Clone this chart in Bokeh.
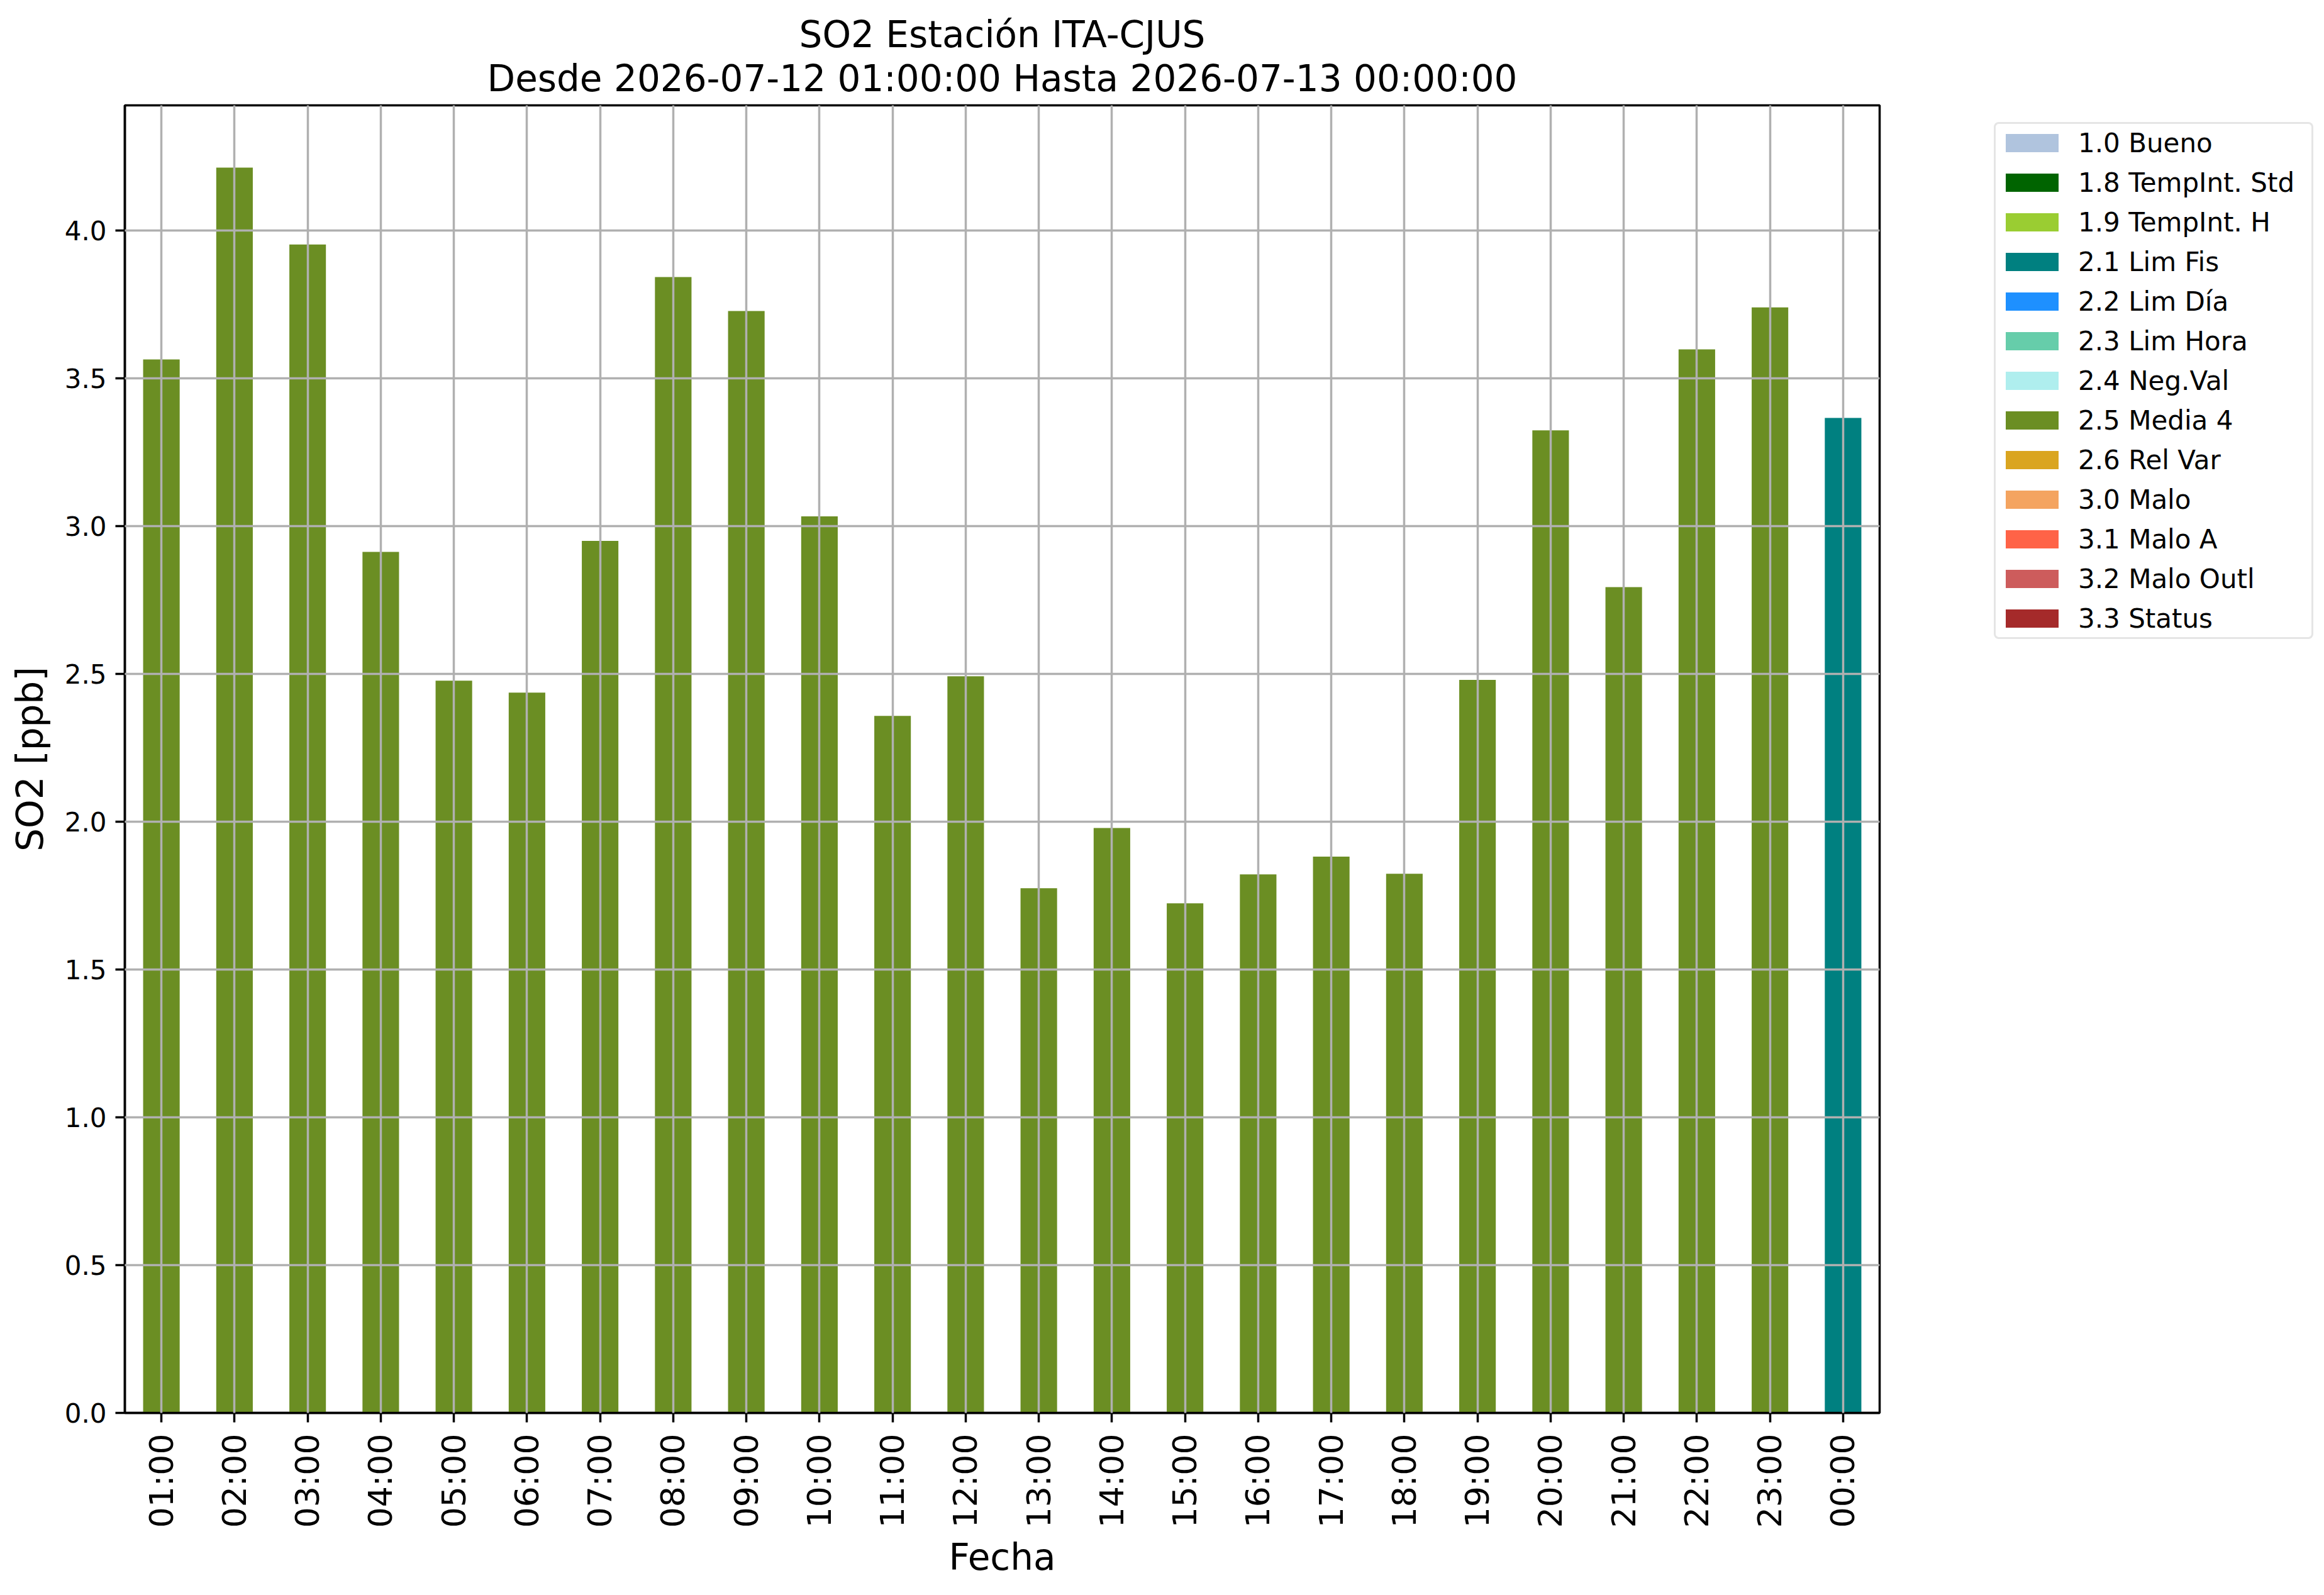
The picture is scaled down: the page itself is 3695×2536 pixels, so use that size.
import math
from bokeh.plotting import figure
from bokeh.layouts import row
from bokeh.models import (FactorRange, Range1d, FixedTicker, NumeralTickFormatter,
                          Legend, LegendItem, Title, ColumnDataSource)
from bokeh.embed import file_html
from bokeh.resources import INLINE

# ---------------- data ----------------
hours = ["01:00", "02:00", "03:00", "04:00", "05:00", "06:00", "07:00", "08:00",
         "09:00", "10:00", "11:00", "12:00", "13:00", "14:00", "15:00", "16:00",
         "17:00", "18:00", "19:00", "20:00", "21:00", "22:00", "23:00", "00:00"]
values = [3.564, 4.213, 3.953, 2.913, 2.477, 2.437, 2.950, 3.843,
          3.728, 3.033, 2.358, 2.492, 1.775, 1.979, 1.724, 1.822,
          1.882, 1.824, 2.480, 3.324, 2.794, 3.598, 3.740, 3.366]
flags = ["2.5 Media 4"] * 23 + ["2.1 Lim Fis"]

categories = ["1.0 Bueno", "1.8 TempInt. Std", "1.9 TempInt. H", "2.1 Lim Fis",
              "2.2 Lim Día", "2.3 Lim Hora", "2.4 Neg.Val", "2.5 Media 4",
              "2.6 Rel Var", "3.0 Malo", "3.1 Malo A", "3.2 Malo Outl", "3.3 Status"]
colors = ["lightsteelblue", "darkgreen", "yellowgreen", "teal", "dodgerblue",
          "mediumaquamarine", "paleturquoise", "olivedrab", "goldenrod",
          "sandybrown", "tomato", "indianred", "brown"]

y_ticks = [0.0, 0.5, 1.0, 1.5, 2.0, 2.5, 3.0, 3.5, 4.0]
title_line1 = "SO2 Estación ITA-CJUS"
title_line2 = "Desde 2026-07-12 01:00:00 Hasta 2026-07-13 00:00:00"
x_label = "Fecha"
y_label = "SO2 [ppb]"

FONT = "DejaVu Sans"
H = 2520

# ---------------- main figure ----------------
p = figure(width=3000, height=H,
           x_range=FactorRange(*hours),
           y_range=Range1d(0, max(values) * 1.05),
           output_backend="svg", toolbar_location=None,
           min_border_left=198, min_border_right=12,
           min_border_top=167, min_border_bottom=274)

p.add_layout(Title(text=title_line2, align="center", text_font=FONT,
                   text_font_size="58px", text_font_style="normal",
                   text_color="black", standoff=17), "above")
p.add_layout(Title(text=title_line1, align="center", text_font=FONT,
                   text_font_size="58px", text_font_style="normal",
                   text_color="black", standoff=-16), "above")

for cat, col in zip(categories, colors):
    idx = [i for i, f in enumerate(flags) if f == cat]
    if not idx:
        continue
    src = ColumnDataSource(dict(x=[hours[i] for i in idx],
                                top=[values[i] for i in idx]))
    p.vbar(x="x", top="top", width=0.5, bottom=0, source=src,
           fill_color=col, line_color=None)

for ax in (p.xaxis, p.yaxis):
    ax.axis_line_color = "black"
    ax.axis_line_width = 3.5
    ax.major_tick_line_color = "black"
    ax.major_tick_line_width = 3.5
    ax.major_tick_out = 15
    ax.major_tick_in = 0
    ax.minor_tick_out = 0
    ax.minor_tick_in = 0
    ax.major_label_text_font = FONT
    ax.major_label_text_color = "black"
    ax.axis_label_text_font = FONT
    ax.axis_label_text_font_size = "58px"
    ax.axis_label_text_font_style = "normal"
    ax.axis_label_text_color = "black"

p.xaxis.axis_label = x_label
p.yaxis.axis_label = y_label
p.xaxis.major_label_orientation = math.pi / 2
p.xaxis.major_label_text_font_size = "52px"
p.xaxis.major_label_standoff = 18
p.xaxis.axis_label_standoff = 10
p.yaxis.major_label_text_font_size = "42px"
p.yaxis.major_label_standoff = 14
p.yaxis.axis_label_standoff = 18
p.yaxis.ticker = FixedTicker(ticks=y_ticks)
p.yaxis.formatter = NumeralTickFormatter(format="0.0")

for g in (p.xgrid, p.ygrid):
    g.grid_line_color = "#b0b0b0"
    g.grid_line_width = 3.5
    g.level = "guide"

p.outline_line_color = "black"
p.outline_line_width = 3.5
p.background_fill_color = "white"
p.border_fill_color = "white"

# ---------------- legend figure ----------------
lg = figure(width=679, height=H,
            x_range=FactorRange(*categories), y_range=Range1d(0, 1),
            x_axis_location=None, y_axis_location=None,
            output_backend="svg", toolbar_location=None,
            min_border_left=0, min_border_right=0,
            min_border_top=0, min_border_bottom=0)
lg.outline_line_color = None
lg.background_fill_color = "white"
lg.border_fill_color = "white"
for g in lg.grid:
    g.visible = False

items = []
for cat, col in zip(categories, colors):
    src = ColumnDataSource(dict(x=[cat], top=[0.0]))
    r = lg.vbar(x="x", top="top", width=0.5, bottom=0, source=src,
                fill_color=col, line_color=None)
    items.append(LegendItem(label=cat, renderers=[r]))

legend = Legend(items=items, location=(170, 1230),
                label_text_font=FONT, label_text_font_size="42px",
                label_text_color="black",
                glyph_width=105, glyph_height=36, label_standoff=21,
                label_height=50, label_width=366, spacing=13, padding=5, margin=0,
                border_line_color="#cccccc", border_line_width=3,
                background_fill_color="white", background_fill_alpha=1.0)
try:
    legend.border_radius = 8
except Exception:
    pass
lg.add_layout(legend)

layout = row(p, lg, spacing=0)
open("out.html", "w").write(file_html(layout, INLINE))
